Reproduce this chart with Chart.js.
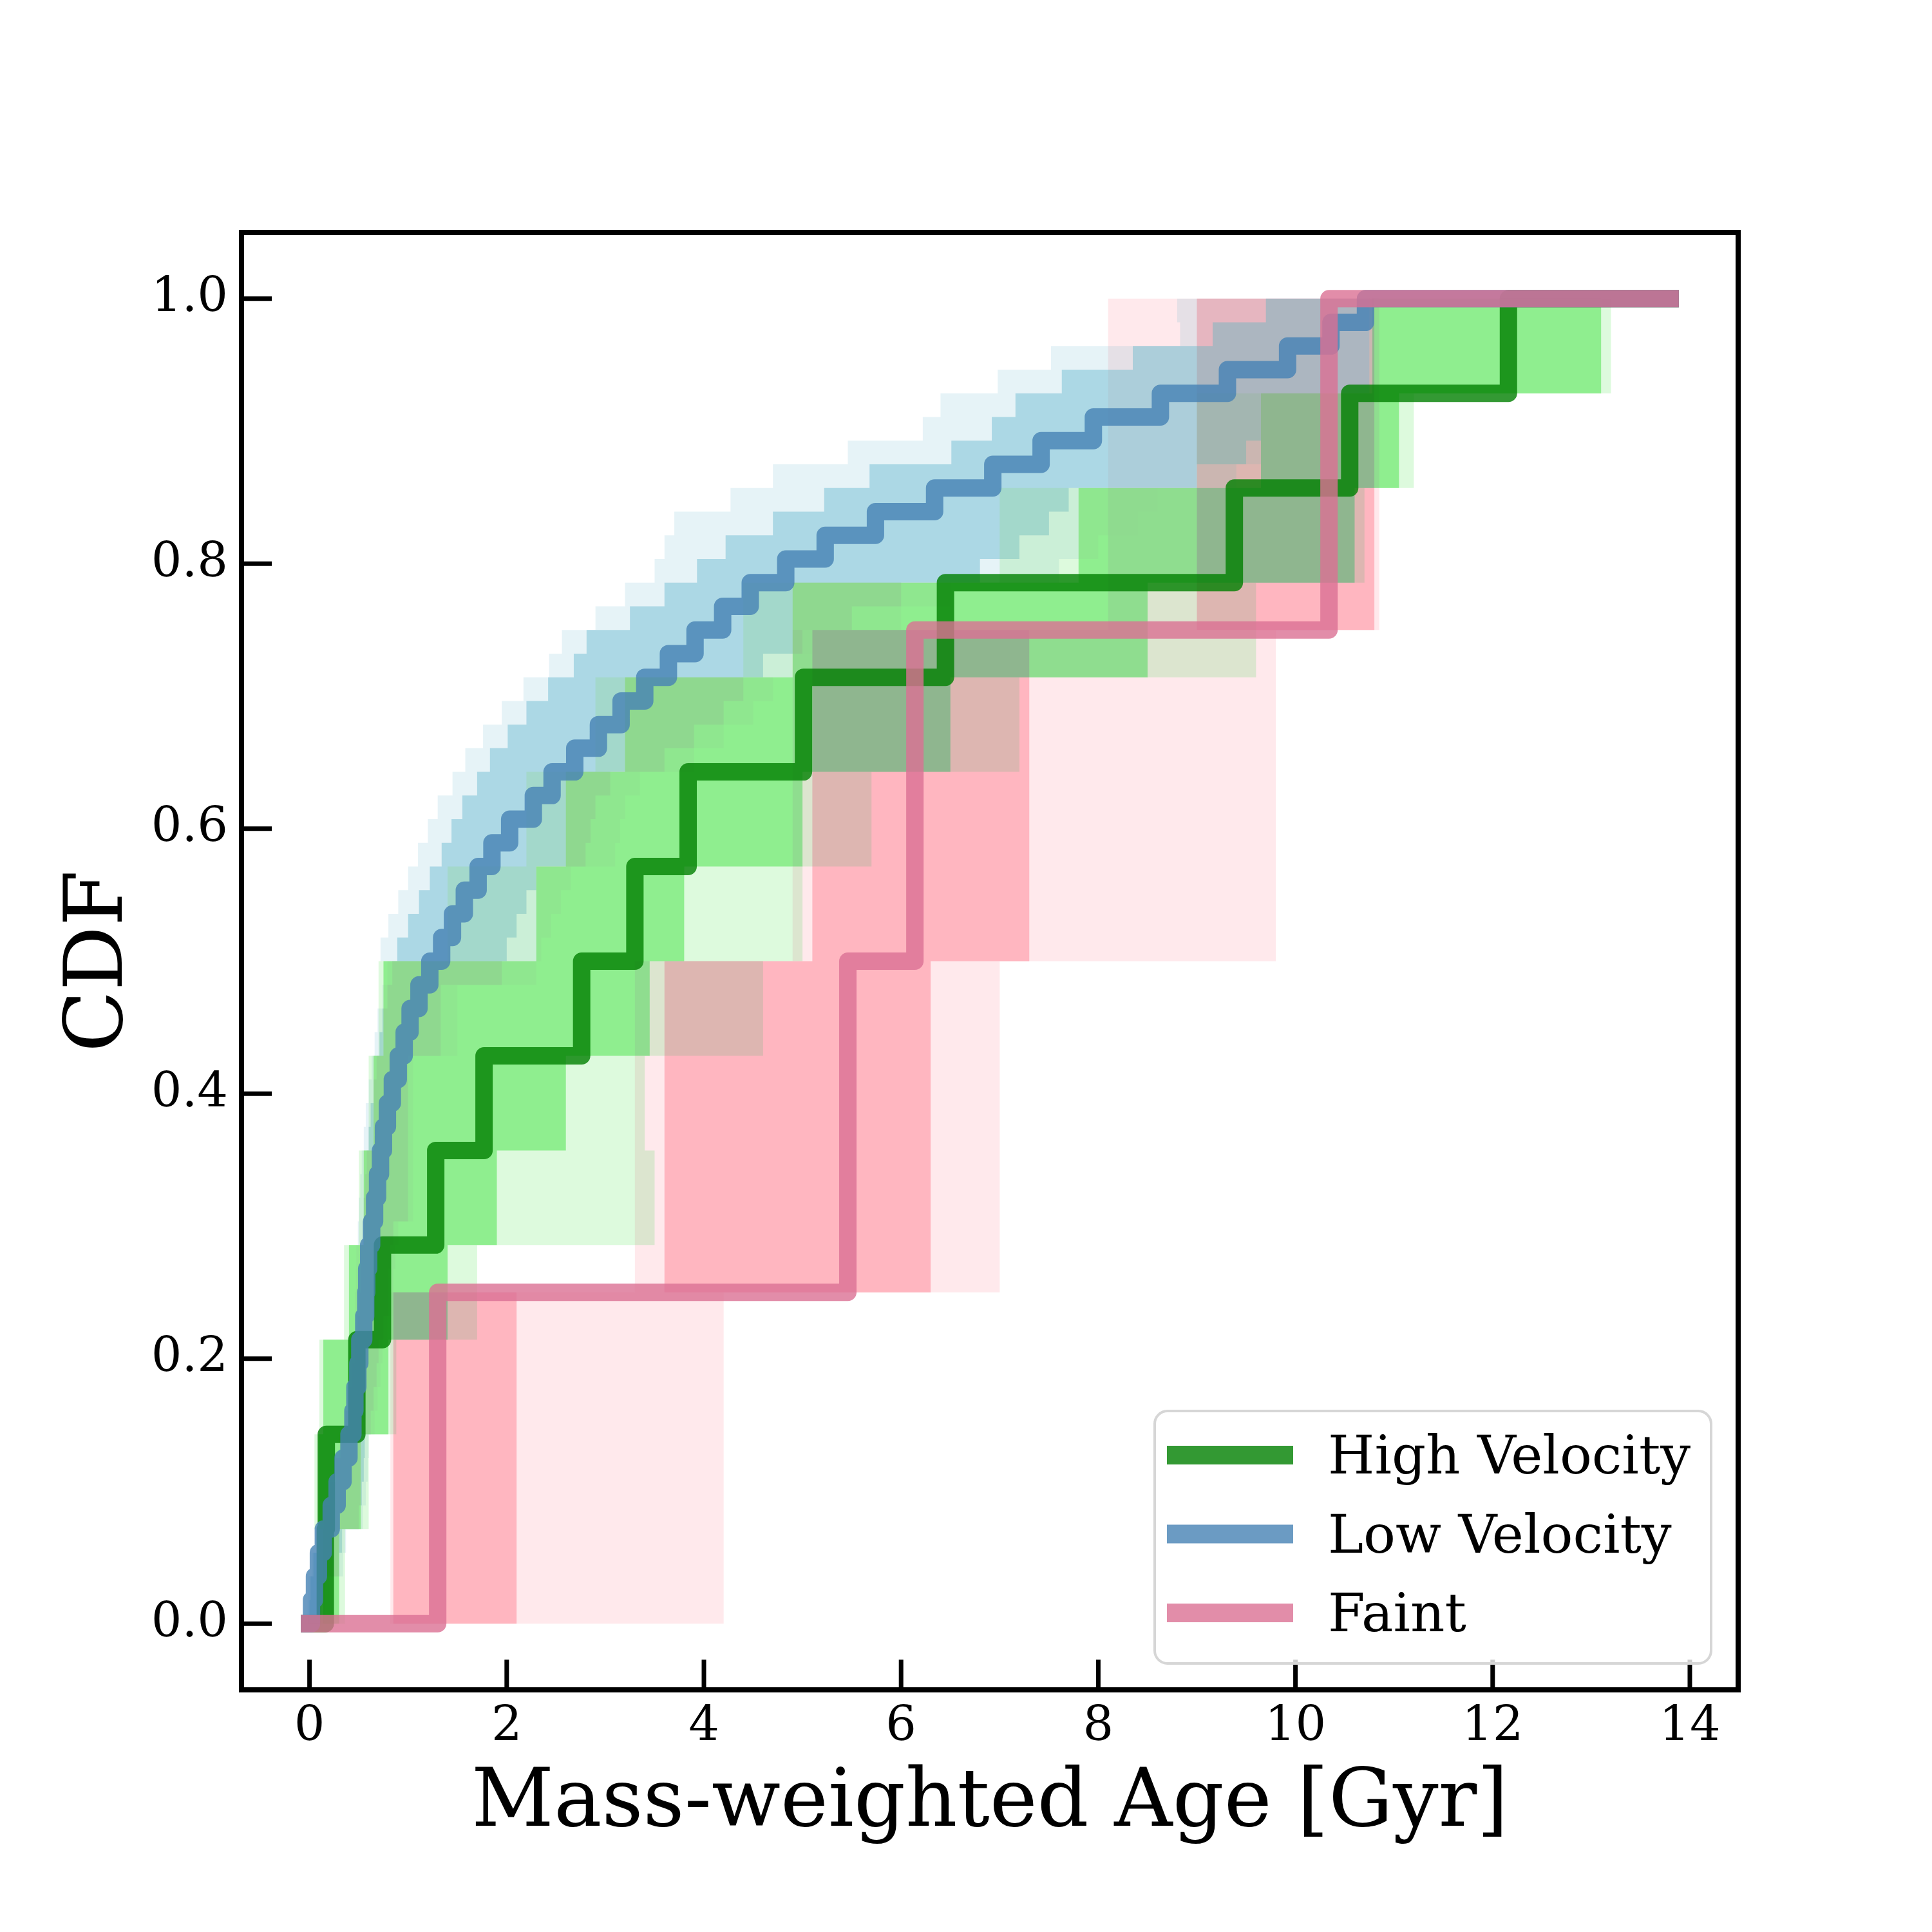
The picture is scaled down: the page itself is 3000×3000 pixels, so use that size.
<!DOCTYPE html>
<html>
<head>
<meta charset="utf-8">
<title>CDF idade</title>
<script src="https://cdn.jsdelivr.net/npm/chart.js@4.4.1/dist/chart.umd.min.js"></script>
<style>
  body { margin: 0; background: #ffffff; }
  #caixa { width: 3000px; height: 3000px; }
</style>
</head>
<body>
<div id="caixa"><canvas id="grafico" width="3000" height="3000"></canvas></div>
<script>
// idades (Gyr) onde cada CDF sobe um degrau
var idade_max = 13.8

var idades_alta = [0.16, 0.17, 0.48, 0.74, 1.28, 1.77, 2.76, 3.30, 3.84, 5.01, 6.45, 9.38, 10.55, 12.16]
var faixa_alta_min = [0.14, 0.09, 0.14, 0.40, 0.55, 0.65, 0.75, 2.30, 2.60, 3.20, 4.90, 7.80, 9.65, 10.78]
var faixa_alta_max = [0.30, 0.52, 0.80, 1.40, 1.90, 2.60, 3.45, 3.80, 5.00, 6.50, 8.50, 10.60, 11.05, 13.10]
var borda_alta_min = [0.10, 0.05, 0.10, 0.35, 0.50, 0.60, 0.70, 1.40, 2.20, 2.90, 4.40, 7.00, 9.00, 10.75]
var borda_alta_max = [0.36, 0.60, 0.88, 1.70, 3.50, 3.40, 4.60, 5.00, 5.70, 7.20, 9.60, 10.70, 11.20, 13.20]

var idades_baixa = [0.02, 0.05, 0.09, 0.14, 0.22, 0.28, 0.34, 0.40, 0.44, 0.46,
  0.49, 0.51, 0.55, 0.57, 0.58, 0.60, 0.63, 0.66, 0.69, 0.72,
  0.75, 0.79, 0.84, 0.90, 0.96, 1.02, 1.11, 1.22, 1.34, 1.45,
  1.57, 1.71, 1.85, 2.03, 2.27, 2.46, 2.69, 2.93, 3.16, 3.40,
  3.64, 3.91, 4.19, 4.47, 4.83, 5.23, 5.74, 6.34, 6.93, 7.42,
  7.95, 8.63, 9.31, 9.92, 10.36, 10.71]
var faixa_baixa_min = [0.00, 0.01, 0.04, 0.08, 0.15, 0.21, 0.27, 0.32, 0.37, 0.40,
  0.43, 0.46, 0.49, 0.51, 0.52, 0.525, 0.54, 0.55, 0.565, 0.58,
  0.60, 0.62, 0.65, 0.68, 0.71, 0.74, 0.79, 0.84, 0.89, 1.00,
  1.11, 1.22, 1.34, 1.44, 1.55, 1.70, 1.83, 2.01, 2.20, 2.42,
  2.68, 2.81, 3.25, 3.60, 3.93, 4.22, 4.70, 5.22, 5.68, 6.51,
  6.92, 7.16, 7.63, 8.35, 9.16, 9.70]
var faixa_baixa_max = [0.12, 0.16, 0.30, 0.33, 0.50, 0.53, 0.55, 0.56, 0.62, 0.65,
  0.68, 0.70, 0.75, 0.80, 0.80, 0.82, 0.85, 1.00, 1.00, 1.00,
  1.00, 1.00, 1.00, 1.00, 1.33, 1.33, 1.33, 1.95, 2.00, 2.10,
  2.20, 2.30, 2.80, 2.85, 2.90, 3.05, 3.60, 3.90, 4.20, 4.40,
  4.60, 5.00, 5.50, 6.00, 6.80, 7.20, 7.50, 7.70, 9.00, 9.50,
  10.00, 10.30, 10.75, 10.75, 10.75, 10.75]
var borda_baixa_min = [-0.02, -0.01, 0.02, 0.06, 0.13, 0.19, 0.25, 0.30, 0.35, 0.38,
  0.41, 0.44, 0.47, 0.46, 0.47, 0.475, 0.49, 0.50, 0.515, 0.53,
  0.55, 0.57, 0.60, 0.63, 0.66, 0.69, 0.74, 0.79, 0.72, 0.80,
  0.90, 1.00, 1.10, 1.20, 1.30, 1.45, 1.58, 1.76, 1.95, 2.17,
  2.43, 2.56, 2.90, 3.20, 3.50, 3.60, 3.70, 4.27, 4.70, 5.46,
  6.22, 6.40, 6.98, 7.52, 8.83, 8.80]
var borda_baixa_max = [0.16, 0.20, 0.34, 0.37, 0.54, 0.57, 0.59, 0.60, 0.66, 0.69,
  0.72, 0.74, 0.79, 0.85, 0.85, 0.87, 0.90, 1.05, 1.05, 1.05,
  1.05, 1.05, 1.05, 1.05, 1.50, 1.50, 1.50, 2.30, 2.35, 2.45,
  2.55, 2.65, 3.10, 3.15, 3.20, 3.35, 3.90, 4.20, 4.50, 4.70,
  4.90, 5.50, 6.00, 6.50, 7.60, 8.00, 8.40, 8.60, 9.40, 9.90,
  10.30, 10.50, 10.80, 10.80, 10.80, 10.80]

var idades_fraca = [1.30, 5.46, 6.14, 10.34]
var faixa_fraca_min = [0.85, 3.60, 5.10, 9.00]
var faixa_fraca_max = [2.10, 6.30, 7.30, 10.80]
var borda_fraca_min = [0.82, 3.30, 4.90, 8.10]
var borda_fraca_max = [4.20, 7.00, 9.80, 10.85]

var ticks_x = [0, 2, 4, 6, 8, 10, 12, 14]
var ticks_y = [0.0, 0.2, 0.4, 0.6, 0.8, 1.0]
var rotulos = ['High Velocity', 'Low Velocity', 'Faint']
var cores = ['rgba(0,128,0,0.8)', 'rgba(70,130,180,0.8)', 'rgba(219,112,147,0.8)']

function degraus(idades) {
  // CDF empirica: comeca em zero e sobe 1/N em cada idade
  var pontos = [{x: 0, y: 0}]
  for (var i = 0; i < idades.length; i++) {
    pontos.push({x: idades[i], y: (i + 1) / idades.length})
  }
  pontos.push({x: idade_max, y: 1})
  return pontos
}

function faixa(minimos, maximos) {
  // contorno da faixa: sobe pela borda esquerda, desce pela direita
  var n = minimos.length
  var pontos = [{x: Math.min.apply(null, minimos), y: 0}]
  for (var i = 0; i < n; i++) {
    pontos.push({x: minimos[i], y: i / n})
    pontos.push({x: minimos[i], y: (i + 1) / n})
  }
  for (var j = n - 1; j >= 0; j--) {
    pontos.push({x: maximos[j], y: (j + 1) / n})
    pontos.push({x: maximos[j], y: j / n})
  }
  pontos.push({x: Math.max.apply(null, maximos), y: 0})
  return pontos
}

function linha(i, idades, ordem) {
  return {
    label: rotulos[i], data: degraus(idades), borderColor: cores[i], borderWidth: 27,
    stepped: 'before', fill: false, pointRadius: 0, pointHoverRadius: 0,
    borderCapStyle: 'square', borderJoinStyle: 'round', order: ordem
  }
}

function area(minimos, maximos, cor) {
  return {
    label: '', data: faixa(minimos, maximos), backgroundColor: cor,
    borderColor: 'rgba(0,0,0,0)', borderWidth: 1, fill: 'shape',
    pointRadius: 0, pointHoverRadius: 0, order: 5, faixa: true
  }
}

var verde = '144,238,144', azul = '173,216,230', rosa = '255,182,193'

var conjuntos = [
  linha(0, idades_alta, 2),
  linha(1, idades_baixa, 1),
  linha(2, idades_fraca, 0),
  area(borda_alta_min, borda_alta_max, 'rgba(' + verde + ',0.3)'),
  area(borda_baixa_min, borda_baixa_max, 'rgba(' + azul + ',0.3)'),
  area(borda_fraca_min, borda_fraca_max, 'rgba(' + rosa + ',0.3)'),
  area(faixa_alta_min, faixa_alta_max, 'rgb(' + verde + ')'),
  area(faixa_baixa_min, faixa_baixa_max, 'rgb(' + azul + ')'),
  area(faixa_fraca_min, faixa_fraca_max, 'rgb(' + rosa + ')')
]

// as faixas se misturam escurecendo, as linhas vao por cima normalmente
var mistura = {
  id: 'mistura',
  beforeDatasetsDraw: function(chart) { chart.ctx.globalCompositeOperation = 'darken' },
  beforeDatasetDraw: function(chart, args) {
    chart.ctx.globalCompositeOperation = chart.data.datasets[args.index].faixa ? 'darken' : 'source-over'
  },
  afterDatasetsDraw: function(chart) { chart.ctx.globalCompositeOperation = 'source-over' }
}

// moldura, ticks para dentro e legenda
var moldura = {
  id: 'moldura',
  afterDraw: function(chart) {
    var ctx = chart.ctx
    var a = chart.chartArea
    var sx = chart.scales.x
    var sy = chart.scales.y
    ctx.save()
    ctx.strokeStyle = '#000000'
    ctx.lineWidth = 8
    ctx.strokeRect(a.left, a.top, a.right - a.left, a.bottom - a.top)
    ctx.lineWidth = 7
    ctx.beginPath()
    ticks_x.forEach(function(v) {
      var px = sx.getPixelForValue(v)
      ctx.moveTo(px, a.bottom)
      ctx.lineTo(px, a.bottom - 47)
    })
    ticks_y.forEach(function(v) {
      var py = sy.getPixelForValue(v)
      ctx.moveTo(a.left, py)
      ctx.lineTo(a.left + 47, py)
    })
    ctx.stroke()

    ctx.beginPath()
    ctx.roundRect(1793, 2191, 864, 392, 20)
    ctx.fillStyle = 'rgba(255,255,255,0.8)'
    ctx.fill()
    ctx.strokeStyle = '#d6d6d6'
    ctx.lineWidth = 4
    ctx.stroke()
    ctx.font = '83px "DejaVu Serif"'
    ctx.textBaseline = 'alphabetic'
    for (var i = 0; i < rotulos.length; i++) {
      ctx.fillStyle = cores[i]
      ctx.fillRect(1812, 2245 + i * 122.5, 196, 29)
      ctx.fillStyle = '#000000'
      ctx.fillText(rotulos[i], 2062, 2288 + i * 122.5)
    }
    ctx.restore()
  }
}

var fonte_ticks = {family: 'DejaVu Serif', size: 75}
var fonte_titulo = {family: 'DejaVu Serif', size: 125}

var ctxGrafico = document.getElementById('grafico').getContext('2d')
var grafico = new Chart(ctxGrafico, {
  type: 'line',
  data: { datasets: conjuntos },
  plugins: [mistura, moldura],
  options: {
    responsive: false,
    devicePixelRatio: 1,
    animation: false,
    events: [],
    layout: { padding: { left: 0, right: 301, top: 361, bottom: 0 } },
    plugins: { legend: { display: false }, tooltip: { enabled: false } },
    scales: {
      x: {
        type: 'linear', min: -0.69, max: 14.49,
        grid: { display: false, drawTicks: false },
        border: { display: false },
        afterBuildTicks: function(eixo) { eixo.ticks = ticks_x.map(function(v) { return {value: v} }) },
        afterFit: function(eixo) { eixo.height = 376 },
        ticks: { font: fonte_ticks, color: '#000000', padding: 14, maxRotation: 0, autoSkip: false,
          callback: function(v) { return String(v) } },
        title: { display: true, text: 'Mass-weighted Age [Gyr]', font: fonte_titulo, color: '#000000',
          padding: { top: 0, bottom: 122 } }
      },
      y: {
        type: 'linear', min: -0.05, max: 1.05,
        grid: { display: false, drawTicks: false },
        border: { display: false },
        afterBuildTicks: function(eixo) { eixo.ticks = ticks_y.map(function(v) { return {value: v} }) },
        afterFit: function(eixo) { eixo.width = 375 },
        ticks: { font: fonte_ticks, color: '#000000', padding: 21, autoSkip: false,
          callback: function(v) { return v.toFixed(1) } },
        title: { display: true, text: 'CDF', font: fonte_titulo, color: '#000000',
          padding: { top: 82, bottom: 0 } }
      }
    }
  }
})
</script>
</body>
</html>
